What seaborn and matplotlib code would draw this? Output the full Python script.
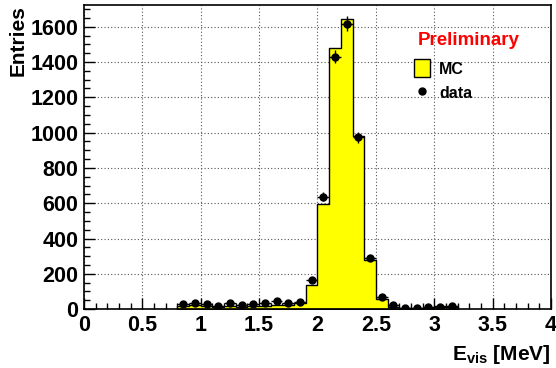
import numpy as np
import matplotlib
matplotlib.use("Agg")
import matplotlib.pyplot as plt
import seaborn as sns
from matplotlib.patches import Patch
from matplotlib.lines import Line2D
from matplotlib.ticker import MultipleLocator

# bin edges 0.8 .. 3.2 MeV, width 0.1
bin_edges = [0.8, 0.9, 1.0, 1.1, 1.2, 1.3, 1.4, 1.5, 1.6, 1.7, 1.8, 1.9, 2.0,
             2.1, 2.2, 2.3, 2.4, 2.5, 2.6, 2.7, 2.8, 2.9, 3.0, 3.1, 3.2]
bin_centers = [0.85, 0.95, 1.05, 1.15, 1.25, 1.35, 1.45, 1.55, 1.65, 1.75, 1.85, 1.95,
               2.05, 2.15, 2.25, 2.35, 2.45, 2.55, 2.65, 2.75, 2.85, 2.95, 3.05, 3.15]
mc_entries = [18, 22, 18, 12, 20, 12, 18, 20, 22, 25, 32, 136,
              595, 1482, 1641, 980, 278, 60, 12, 4, 4, 6, 15, 10]
data_entries = [28, 34, 28, 20, 34, 26, 28, 34, 45, 34, 38, 165,
                636, 1430, 1618, 973, 287, 66, 25, 5, 5, 10, 10, 17]

sns.set_style("ticks")
plt.rcParams['font.family'] = ['Liberation Sans', 'DejaVu Sans']
plt.rcParams['font.weight'] = 'bold'
plt.rcParams['mathtext.fontset'] = 'custom'
plt.rcParams['mathtext.rm'] = 'Liberation Sans:bold'
plt.rcParams['mathtext.bf'] = 'Liberation Sans:bold'
for key in ['text.color', 'axes.labelcolor', 'xtick.color', 'ytick.color', 'axes.edgecolor']:
    plt.rcParams[key] = 'black'

fig = plt.figure(figsize=(5.56, 3.68), dpi=100)
ax = fig.add_axes([0.151, 0.160, 0.840, 0.826])

sns.histplot(x=bin_centers, weights=mc_entries, bins=bin_edges, element="step",
             fill=True, color="yellow", edgecolor="black", linewidth=1.0,
             alpha=1.0, ax=ax, zorder=2)

yerr = np.sqrt(np.array(data_entries, dtype=float))
ax.errorbar(bin_centers, data_entries, yerr=yerr, xerr=0.05, fmt='o', color='black',
            markersize=5, elinewidth=1, capsize=0, zorder=3)

ax.set_xlim(0, 4)
ax.set_ylim(0, 1722)
ax.xaxis.set_major_locator(MultipleLocator(0.5))
ax.xaxis.set_minor_locator(MultipleLocator(0.1))
ax.yaxis.set_major_locator(MultipleLocator(200))
ax.yaxis.set_minor_locator(MultipleLocator(50))
ax.set_xticks([0, 0.5, 1, 1.5, 2, 2.5, 3, 3.5, 4])
ax.set_xticklabels(['0', '0.5', '1', '1.5', '2', '2.5', '3', '3.5', '4'])
ax.tick_params(which='major', direction='in', length=8, width=1, labelsize=15.5, pad=4,
               colors='black')
ax.tick_params(which='minor', direction='in', length=4, width=1, colors='black')
ax.tick_params(top=False, right=False)
for s in ax.spines.values():
    s.set_linewidth(1.2)
    s.set_visible(True)
    s.set_color('black')

ax.grid(True, which='major', linestyle=(0, (1, 2)), color='#555555', linewidth=0.8, zorder=0)
ax.set_axisbelow(True)

ax.set_xlabel(r"E$_{\mathrm{vis}}$ [MeV]", fontsize=15, fontweight='bold', loc='right', labelpad=5)
ax.set_ylabel("Entries", fontsize=15, fontweight='bold', loc='top', labelpad=2)

ax.text(0.824, 0.885, "Preliminary", transform=ax.transAxes, color='red',
        fontsize=13.5, fontweight='bold', ha='center', va='center')
handles = [Patch(facecolor='yellow', edgecolor='black', linewidth=1),
           Line2D([], [], marker='o', color='black', linestyle='none', markersize=5)]
ax.legend(handles, ["MC", "data"], loc='upper left', bbox_to_anchor=(0.675, 0.87),
          frameon=False, prop={'size': 11.5, 'weight': 'bold'},
          handlelength=1.0, handleheight=1.4, handletextpad=0.6, labelspacing=0.4)

fig.savefig("out.png", dpi=100)
